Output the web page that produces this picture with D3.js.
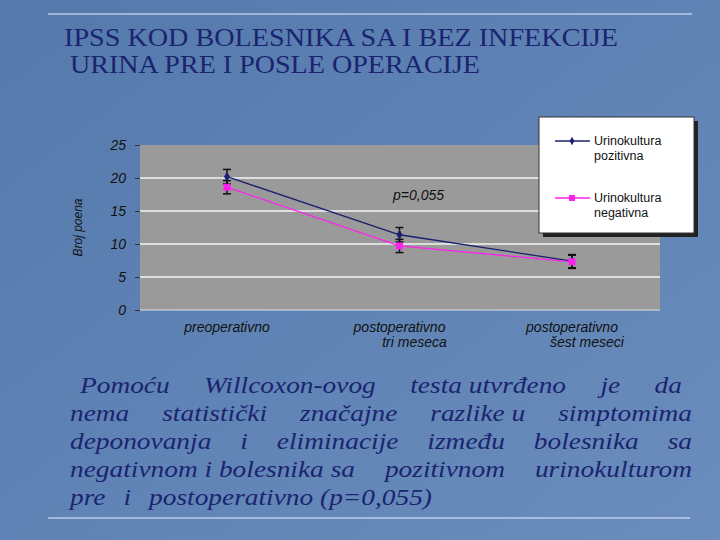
<!DOCTYPE html>
<html><head><meta charset="utf-8">
<script src="https://cdn.jsdelivr.net/npm/d3@7"></script>
<style>
body{margin:0;background:#5b80b2}
</style></head><body>
<svg id="c" width="720" height="540"></svg>
<script>
'use strict'
const categories = [['preoperativno'], ['postoperativno', 'tri  meseca'], ['postoperativno', 'šest  meseci']]
const seriesNames = ['Urinokultura pozitivna', 'Urinokultura negativna']
const pozitivna = [20.2, 11.4, 7.4]
const negativna = [18.6, 9.7, 7.3]
const errPoz = [1.1, 1.1, 1.0]
const errNeg = [1.0, 1.0, 1.0]
const yTicks = [0, 5, 10, 15, 20, 25]

const svg = d3.select('#c')
const defs = svg.append('defs')
const g0 = defs.append('linearGradient').attr('id', 'bg').attr('x1', 0).attr('y1', 0).attr('x2', 1).attr('y2', 1)
g0.append('stop').attr('offset', 0).attr('stop-color', '#5479ab')
g0.append('stop').attr('offset', 1).attr('stop-color', '#6a8dbd')
svg.append('rect').attr('width', 720).attr('height', 540).attr('fill', 'url(#bg)')

svg.append('line').attr('x1', 48).attr('x2', 692).attr('y1', 14).attr('y2', 14).attr('stroke', '#e8eef8').attr('stroke-width', 1)
svg.append('line').attr('x1', 48).attr('x2', 690).attr('y1', 518).attr('y2', 518).attr('stroke', '#e8eef8').attr('stroke-width', 1)

const serif = "'Liberation Serif', 'DejaVu Serif', serif"
const sans = "'Liberation Sans', Arial, sans-serif"

const title = svg.append('g').style('font-family', serif).attr('font-size', 26).attr('fill', '#1b2470')
title.append('text').attr('x', 64).attr('y', 46).attr('textLength', 554).attr('lengthAdjust', 'spacingAndGlyphs').text('IPSS KOD BOLESNIKA SA I BEZ INFEKCIJE')
title.append('text').attr('x', 70).attr('y', 73).attr('textLength', 410).attr('lengthAdjust', 'spacingAndGlyphs').text('URINA PRE I POSLE OPERACIJE')

const x = d3.scalePoint().domain(d3.range(3)).range([227, 572])
const y = d3.scaleLinear().domain([0, 25]).range([310, 145])

svg.append('rect').attr('x', 140).attr('y', y(25)).attr('width', 520).attr('height', y(0) - y(25)).attr('fill', '#9a9a9a')
svg.selectAll('.grid').data(yTicks.filter(t => t > 0 && t < 25)).enter().append('line')
  .attr('x1', 140).attr('x2', 660).attr('y1', d => y(d)).attr('y2', d => y(d))
  .attr('stroke', '#f4f4f4').attr('stroke-width', 1.5)
svg.append('line').attr('x1', 140).attr('x2', 660).attr('y1', y(0)).attr('y2', y(0)).attr('stroke', '#e0e0e0')

const axis = svg.append('g').attr('transform', 'translate(140,0)')
  .call(d3.axisLeft(y).tickValues(yTicks).tickSize(5).tickFormat(d3.format('d')))
axis.select('.domain').remove()
axis.selectAll('line').attr('stroke', '#333')
axis.selectAll('text').style('font-family', sans).attr('font-style', 'italic').attr('font-size', 14).attr('fill', '#111').attr('x', -14)

svg.append('text').attr('transform', `translate(82,${y(12.5)}) rotate(-90)`).attr('text-anchor', 'middle')
  .style('font-family', sans).attr('font-style', 'italic').attr('font-size', 12).attr('fill', '#111').text('Broj poena')

categories.forEach((lines, i) => {
  const t = svg.append('text').style('font-family', sans).attr('font-style', 'italic').attr('font-size', 14).attr('fill', '#111')
  lines.forEach((l, j) => {
    t.append('tspan').attr('x', x(i) + (j ? 15 : 0)).attr('y', 332 + j * 15).attr('text-anchor', 'middle').text(l)
  })
})

const line = d3.line().x((d, i) => x(i)).y(d => y(d))
const series = [
  { v: pozitivna, e: errPoz, c: '#1a1f6e' },
  { v: negativna, e: errNeg, c: '#ff22ee' }
]
series.forEach(s => {
  svg.append('path').attr('d', line(s.v)).attr('fill', 'none').attr('stroke', s.c).attr('stroke-width', 1.3)
  s.v.forEach((v, i) => {
    const eb = svg.append('g').attr('stroke', '#111').attr('stroke-width', 1.5)
    eb.append('line').attr('x1', x(i)).attr('x2', x(i)).attr('y1', y(v - s.e[i])).attr('y2', y(v + s.e[i]))
    ;[v - s.e[i], v + s.e[i]].forEach(t => eb.append('line').attr('x1', x(i) - 4).attr('x2', x(i) + 4).attr('y1', y(t)).attr('y2', y(t)))
  })
})
svg.selectAll('.mp').data(pozitivna).enter().append('path')
  .attr('d', d3.symbol(d3.symbolDiamond, 30)).attr('transform', (d, i) => `translate(${x(i)},${y(d)})`).attr('fill', '#1a1f6e')
svg.selectAll('.mn').data(negativna).enter().append('rect')
  .attr('x', (d, i) => x(i) - 3.5).attr('y', d => y(d) - 3.5).attr('width', 7).attr('height', 7).attr('fill', '#ff22ee')

svg.append('text').attr('x', 393).attr('y', 200).style('font-family', sans).attr('font-style', 'italic').attr('font-size', 14).attr('fill', '#111').text('p=0,055')

// legend
svg.append('rect').attr('x', 543).attr('y', 121).attr('width', 155).attr('height', 116).attr('fill', '#222')
svg.append('rect').attr('x', 539).attr('y', 117).attr('width', 155).attr('height', 116).attr('fill', '#fff').attr('stroke', '#333')
const lg = svg.append('g').style('font-family', sans).attr('font-size', 12.5).attr('fill', '#111')
const lgY = [141, 198]
series.forEach((s, i) => {
  lg.append('line').attr('x1', 555).attr('x2', 590).attr('y1', lgY[i]).attr('y2', lgY[i]).attr('stroke', s.c).attr('stroke-width', 1.3)
  if (i === 0) lg.append('path').attr('d', d3.symbol(d3.symbolDiamond, 20)).attr('transform', `translate(572,${lgY[i]})`).attr('fill', s.c)
  else lg.append('rect').attr('x', 569).attr('y', lgY[i] - 3).attr('width', 6).attr('height', 6).attr('fill', s.c)
  const parts = seriesNames[i].split(' ')
  lg.append('text').attr('x', 594).attr('y', lgY[i] + 4).text(parts[0])
  lg.append('text').attr('x', 594).attr('y', lgY[i] + 19).text(parts[1])
})

const para = [
  ['Pomoću', 'Willcoxon-ovog', 'testa utvrđeno', 'je', 'da'],
  ['nema', 'statistički', 'značajne', 'razlike u', 'simptomima'],
  ['deponovanja', 'i', 'eliminacije', 'između', 'bolesnika', 'sa'],
  ['negativnom i bolesnika sa', 'pozitivnom', 'urinokulturom'],
  ['pre', 'i', 'postoperativno (p=0,055)']
]
const lineX = [[80, 682], [70, 692], [70, 692], [70, 692], [70, null]]
const stretch = 1.14
const pg = svg.append('g').style('font-family', serif).attr('font-style', 'italic').attr('font-size', 24).attr('fill', '#1b2470')
para.forEach((words, li) => {
  const yy = 393 + li * 28
  const [x0, x1] = lineX[li]
  const tmp = words.map(w => {
    const t = pg.append('text').attr('y', yy).text(w)
    const w0 = t.node().getComputedTextLength() * stretch
    t.attr('textLength', w0).attr('lengthAdjust', 'spacingAndGlyphs')
    return { t, w: w0 }
  })
  const total = d3.sum(tmp, d => d.w)
  const gap = x1 === null ? 18 : (x1 - x0 - total) / (words.length - 1)
  let cx = x0
  tmp.forEach(d => { d.t.attr('x', cx); cx += d.w + gap })
})
</script>
</body></html>
